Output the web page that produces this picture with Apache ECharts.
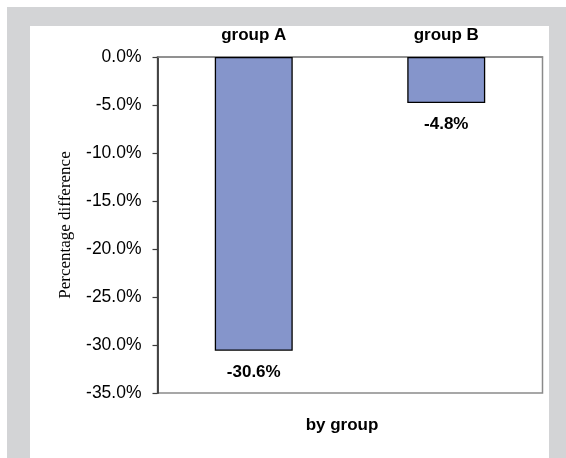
<!DOCTYPE html>
<html>
<head>
<meta charset="utf-8">
<script src="https://cdn.jsdelivr.net/npm/echarts@6/dist/echarts.min.js"></script>
<style>
  html, body { margin: 0; padding: 0; background: #ffffff; }
  #chart { width: 566px; height: 458px; }
</style>
</head>
<body>
<div id="chart"></div>
<script>
// Percentage difference by group
const categories = ['group A', 'group B'];
const values = [-30.6, -4.8];
const yMin = -35;
const yMax = 0;
const yStep = 5;

const sans = '"Liberation Sans", Arial, sans-serif';
const chart = echarts.init(document.getElementById('chart'), null, { renderer: 'canvas' });

chart.setOption({
  animation: false,
  backgroundColor: '#ffffff',
  graphic: [
    { type: 'rect', z: -10, silent: true, shape: { x: 7, y: 7, width: 559, height: 451 }, style: { fill: '#d3d4d6' } },
    { type: 'rect', z: -9, silent: true, shape: { x: 30, y: 26, width: 519, height: 432 }, style: { fill: '#ffffff' } },
    { type: 'text', z: 10, x: 342, y: 417, style: { text: 'by group', font: 'bold 17px ' + sans, fill: '#000', align: 'center', verticalAlign: 'top' } }
  ],
  grid: {
    left: 157.5, right: 23.5, top: 57, bottom: 65,
    show: true, borderColor: '#8a8a8a', borderWidth: 1.5, backgroundColor: 'transparent'
  },
  xAxis: {
    type: 'category',
    data: categories,
    position: 'top',
    axisLine: { show: true, lineStyle: { color: '#8a8a8a', width: 1.5 } },
    axisTick: { show: false },
    axisLabel: {
      margin: 13,
      color: '#000',
      fontFamily: sans,
      fontWeight: 'bold',
      fontSize: 17
    }
  },
  yAxis: {
    type: 'value',
    min: yMin, max: yMax, interval: yStep,
    name: 'Percentage difference',
    nameLocation: 'middle',
    nameGap: 83,
    nameRotate: 90,
    nameTextStyle: { fontFamily: '"Liberation Serif", "Times New Roman", serif', fontSize: 17, color: '#000' },
    axisLine: { show: true, lineStyle: { color: '#3a3a3a', width: 1.8 } },
    axisTick: { show: true, inside: false, length: 5, lineStyle: { color: '#3a3a3a', width: 1.2 } },
    splitLine: { show: false },
    axisLabel: {
      margin: 16,
      color: '#000',
      fontFamily: sans,
      fontSize: 17.5,
      formatter: v => v.toFixed(1) + '%'
    }
  },
  series: [{
    type: 'bar',
    data: values,
    barWidth: '40.5%',
    itemStyle: { color: '#8595cb', borderColor: '#000000', borderWidth: 1.3 },
    label: {
      show: true,
      position: 'bottom',
      distance: 13,
      color: '#000',
      fontFamily: sans,
      fontWeight: 'bold',
      fontSize: 17,
      formatter: p => p.value.toFixed(1) + '%'
    }
  }]
});
</script>
</body>
</html>
